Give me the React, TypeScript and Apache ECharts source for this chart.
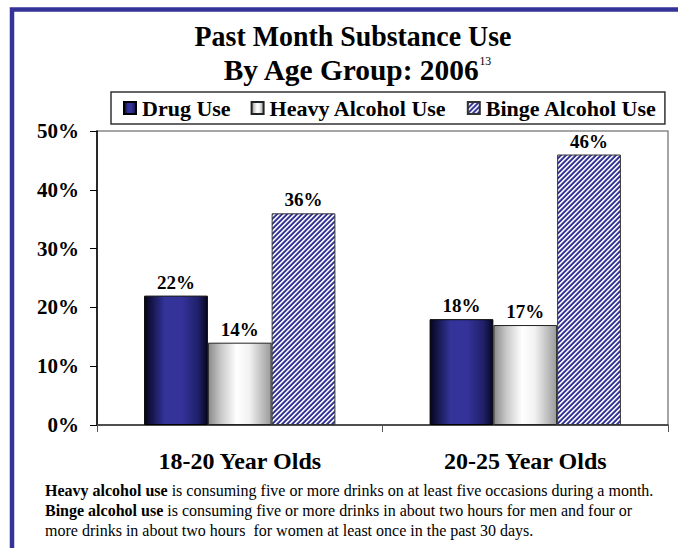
import React, { useEffect, useRef } from "react";
import * as echarts from "echarts";

const categories = ["18-20 Year Olds", "20-25 Year Olds"];
const seriesNames = ["Drug Use", "Heavy Alcohol Use", "Binge Alcohol Use"];
const drugUse = [22, 18];
const heavyAlcoholUse = [14, 17];
const bingeAlcoholUse = [36, 46];
const titleLine1 = "Past Month Substance Use";
const titleLine2 = "By Age Group: 2006";
const titleNote = "13";
const footnotes = [
  ["Heavy alcohol use", " is consuming five or more drinks on at least five occasions during a month."],
  ["Binge alcohol use", " is consuming five or more drinks in about two hours for men and four or"],
  ["", "more drinks in about two hours  for women at least once in the past 30 days."],
];

const FONT = "Liberation Serif";

function makeStripeCanvas() {
  const size = 10;
  const period = 5;
  const blueFrac = 0.55;
  const c = document.createElement("canvas");
  c.width = size;
  c.height = size;
  const ctx = c.getContext("2d")!;
  const img = ctx.createImageData(size, size);
  const blue = [48, 48, 150];
  const ss = 4;
  for (let y = 0; y < size; y++) {
    for (let x = 0; x < size; x++) {
      let cov = 0;
      for (let sy = 0; sy < ss; sy++) {
        for (let sx = 0; sx < ss; sx++) {
          const px = x + (sx + 0.5) / ss;
          const py = y + (sy + 0.5) / ss;
          const t = (((px + py) % period) + period) % period;
          if (t < period * blueFrac) cov++;
        }
      }
      const a = cov / (ss * ss);
      const i = (y * size + x) * 4;
      img.data[i] = Math.round(255 * (1 - a) + blue[0] * a);
      img.data[i + 1] = Math.round(255 * (1 - a) + blue[1] * a);
      img.data[i + 2] = Math.round(255 * (1 - a) + blue[2] * a);
      img.data[i + 3] = 255;
    }
  }
  ctx.putImageData(img, 0, 0);
  return c;
}

export default function App() {
  const ref = useRef<HTMLDivElement>(null);
  useEffect(() => {
    if (!ref.current) return;
    const chart = echarts.init(ref.current, null, { renderer: "svg" });
    const stripe = makeStripeCanvas();
    const drugGrad = new echarts.graphic.LinearGradient(0, 0, 1, 0, [
      { offset: 0, color: "#05051a" },
      { offset: 0.12, color: "#16164d" },
      { offset: 0.32, color: "#333399" },
      { offset: 0.6, color: "#333399" },
      { offset: 0.85, color: "#20206a" },
      { offset: 1, color: "#070722" },
    ]);
    const heavyGrad = new echarts.graphic.LinearGradient(0, 0, 1, 0, [
      { offset: 0, color: "#8a8a8a" },
      { offset: 0.2, color: "#c8c8c8" },
      { offset: 0.45, color: "#ffffff" },
      { offset: 0.65, color: "#f2f2f2" },
      { offset: 1, color: "#9a9a9a" },
    ]);
    const pattern: any = { image: stripe, repeat: "repeat", imageWidth: 10, imageHeight: 10 };
    const labelCfg = {
      show: true,
      position: "top",
      distance: 4,
      formatter: "{c}%",
      fontFamily: FONT,
      fontWeight: "bold",
      fontSize: 19,
      color: "#000",
    };
    chart.setOption({
      animation: false,
      backgroundColor: "#fff",
      grid: {
        left: 97,
        top: 131,
        right: 10,
        bottom: 123,
        show: true,
        borderColor: "#888",
        borderWidth: 1.5,
        containLabel: false,
      },
      legend: {
        left: 111,
        top: 92,
        orient: "horizontal",
        borderColor: "#333",
        borderWidth: 1.5,
        padding: [5, 8, 5, 12],
        itemGap: 20,
        itemWidth: 12,
        itemHeight: 12,
        icon: "rect",
        data: seriesNames,
        textStyle: {
          fontFamily: FONT,
          fontWeight: "bold",
          fontSize: 22,
          color: "#000",
          padding: [0, 0, 0, 1],
        },
      },
      xAxis: {
        type: "category",
        data: categories,
        axisLine: { lineStyle: { color: "#333", width: 1.5 } },
        axisTick: { show: true, length: 7, lineStyle: { color: "#555" } },
        axisLabel: {
          margin: 24,
          fontFamily: FONT,
          fontWeight: "bold",
          fontSize: 24,
          color: "#000",
        },
      },
      yAxis: {
        type: "value",
        min: 0,
        max: 50,
        interval: 10,
        splitLine: { show: false },
        axisLine: { show: true, lineStyle: { color: "#000", width: 1.5 } },
        axisTick: { show: true, length: 7, lineStyle: { color: "#000" } },
        axisLabel: {
          margin: 18,
          formatter: "{value}%",
          fontFamily: FONT,
          fontWeight: "bold",
          fontSize: 21,
          color: "#000",
        },
      },
      series: [
        {
          name: seriesNames[0],
          type: "bar",
          data: drugUse,
          barGap: "0%",
          barCategoryGap: "33%",
          itemStyle: { color: drugGrad, borderColor: "#000", borderWidth: 1 },
          label: labelCfg,
        },
        {
          name: seriesNames[1],
          type: "bar",
          data: heavyAlcoholUse,
          barGap: "0%",
          barCategoryGap: "33%",
          itemStyle: { color: heavyGrad, borderColor: "#222", borderWidth: 1 },
          label: labelCfg,
        },
        {
          name: seriesNames[2],
          type: "bar",
          data: bingeAlcoholUse,
          barGap: "0%",
          barCategoryGap: "33%",
          itemStyle: { color: pattern, borderColor: "#333", borderWidth: 1 },
          label: labelCfg,
        },
      ],
      graphic: [
        {
          type: "rect",
          shape: { x: 12, y: 9.5, width: 720, height: 620 },
          style: { fill: "none", stroke: "#333399", lineWidth: 4.5 },
          silent: true,
        },
        {
          type: "text",
          x: 353,
          y: 36,
          scaleX: 0.93,
          style: {
            text: titleLine1,
            font: `bold 30px "${FONT}"`,
            fill: "#000",
            align: "center",
            verticalAlign: "middle",
          },
        },
        {
          type: "text",
          x: 357,
          y: 70,
          scaleX: 0.98,
          style: {
            text: `${titleLine2}{sup|${titleNote}}`,
            font: `bold 30px "${FONT}"`,
            fill: "#000",
            align: "center",
            verticalAlign: "middle",
            rich: {
              sup: {
                fontSize: 12,
                fontWeight: "normal",
                fontFamily: FONT,
                verticalAlign: "top",
                fill: "#000",
              },
            },
          } as any,
        },
        ...footnotes.map((f, i) => ({
          type: "text",
          x: 45,
          y: 490 + i * 20,
          style: {
            text: (f[0] ? `{b|${f[0]}}` : "") + f[1],
            font: `16px "${FONT}"`,
            fill: "#000",
            align: "left",
            verticalAlign: "middle",
            rich: {
              b: { fontWeight: "bold", fontSize: 16, fontFamily: FONT, fill: "#000" },
            },
          } as any,
        })),
      ],
    });
    return () => chart.dispose();
  }, []);
  return (
    <div
      ref={ref}
      style={{ position: "fixed", left: 0, top: 0, width: 678, height: 548, background: "#fff" }}
    />
  );
}
